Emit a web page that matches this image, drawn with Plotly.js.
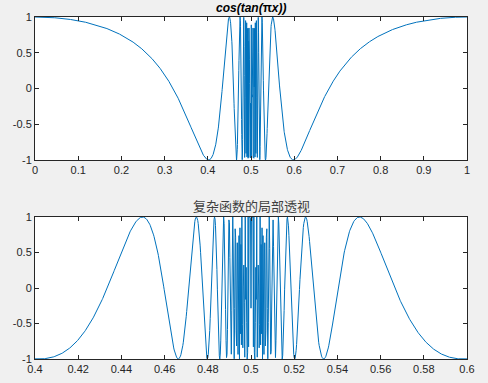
<!DOCTYPE html>
<html>
<head>
<meta charset="utf-8">
<script src="https://cdn.plot.ly/plotly-3.0.1.min.js"></script>
<style>html,body{margin:0;padding:0;background:#f0f0f0;}#chart{width:488px;height:383px;}</style>
</head>
<body>
<div id="chart"></div>
<script>
// The plotted function (as stated in the chart title): cos(tan(pi*x))
const topRange = [0, 1];
const bottomRange = [0.4, 0.6];
const topSamples = 2801;
const bottomSamples = 901;
const topTitle = "<b><i>cos(tan(</i>π<i>x))</i></b>";
const bottomTitle = "复杂函数的局部透视";
const topXTicks = [0, 0.1, 0.2, 0.3, 0.4, 0.5, 0.6, 0.7, 0.8, 0.9, 1];
const topXLabels = ["0", "0.1", "0.2", "0.3", "0.4", "0.5", "0.6", "0.7", "0.8", "0.9", "1"];
const bottomXTicks = [0.4, 0.42, 0.44, 0.46, 0.48, 0.5, 0.52, 0.54, 0.56, 0.58, 0.6];
const bottomXLabels = ["0.4", "0.42", "0.44", "0.46", "0.48", "0.5", "0.52", "0.54", "0.56", "0.58", "0.6"];
const yTicks = [-1, -0.5, 0, 0.5, 1];
const yLabels = ["-1", "-0.5", "0", "0.5", "1"];

function f(x) { return Math.cos(Math.tan(Math.PI * x)); }
function sample(r, n) {
  const xs = [], ys = [];
  for (let i = 0; i < n; i++) {
    const x = r[0] + (r[1] - r[0]) * i / (n - 1);
    xs.push(x); ys.push(f(x));
  }
  return [xs, ys];
}
const [tx, ty] = sample(topRange, topSamples);
const [bx, by] = sample(bottomRange, bottomSamples);

const lineStyle = {color: '#0072BD', width: 1};
const data = [
  {x: tx, y: ty, type: 'scatter', mode: 'lines', line: lineStyle, xaxis: 'x', yaxis: 'y', hoverinfo: 'skip'},
  {x: bx, y: by, type: 'scatter', mode: 'lines', line: lineStyle, xaxis: 'x2', yaxis: 'y2', hoverinfo: 'skip'}
];
const H = 383;
const tickFont = {family: 'Liberation Sans, Arial, sans-serif', size: 11, color: '#262626'};
function ax(extra) {
  return Object.assign({
    showgrid: false, zeroline: false, showline: true, mirror: 'ticks',
    ticks: 'inside', ticklen: 4, tickwidth: 1, tickcolor: '#262626',
    linecolor: '#262626', linewidth: 1, tickfont: tickFont, tickmode: 'array',
    fixedrange: true
  }, extra);
}
const topDom = [1 - 160 / H, 1 - 17 / H];
const botDom = [1 - 359 / H, 1 - 217 / H];
const layout = {
  width: 488, height: 383,
  margin: {l: 35, r: 21, t: 0, b: 0},
  paper_bgcolor: '#f0f0f0', plot_bgcolor: '#ffffff',
  showlegend: false,
  xaxis: ax({domain: [0, 1], range: topRange, tickvals: topXTicks, ticktext: topXLabels, anchor: 'y'}),
  yaxis: ax({domain: topDom, range: [-1, 1], tickvals: yTicks, ticktext: yLabels, anchor: 'x'}),
  xaxis2: ax({domain: [0, 1], range: bottomRange, tickvals: bottomXTicks, ticktext: bottomXLabels, anchor: 'y2'}),
  yaxis2: ax({domain: botDom, range: [-1, 1], tickvals: yTicks, ticktext: yLabels, anchor: 'x2'}),
  annotations: [
    {text: topTitle, xref: 'paper', yref: 'paper', x: 0.5, y: topDom[1], xanchor: 'center', yanchor: 'bottom',
     showarrow: false, font: {family: 'Liberation Sans, Arial, sans-serif', size: 12, color: '#000000'}},
    {text: bottomTitle, xref: 'paper', yref: 'paper', x: 0.5, y: botDom[1], xanchor: 'center', yanchor: 'bottom',
     showarrow: false, font: {family: 'Noto Sans CJK SC, sans-serif', size: 13, color: '#404040'}}
  ]
};
Plotly.newPlot('chart', data, layout, {staticPlot: true, displayModeBar: false});
</script>
</body>
</html>
